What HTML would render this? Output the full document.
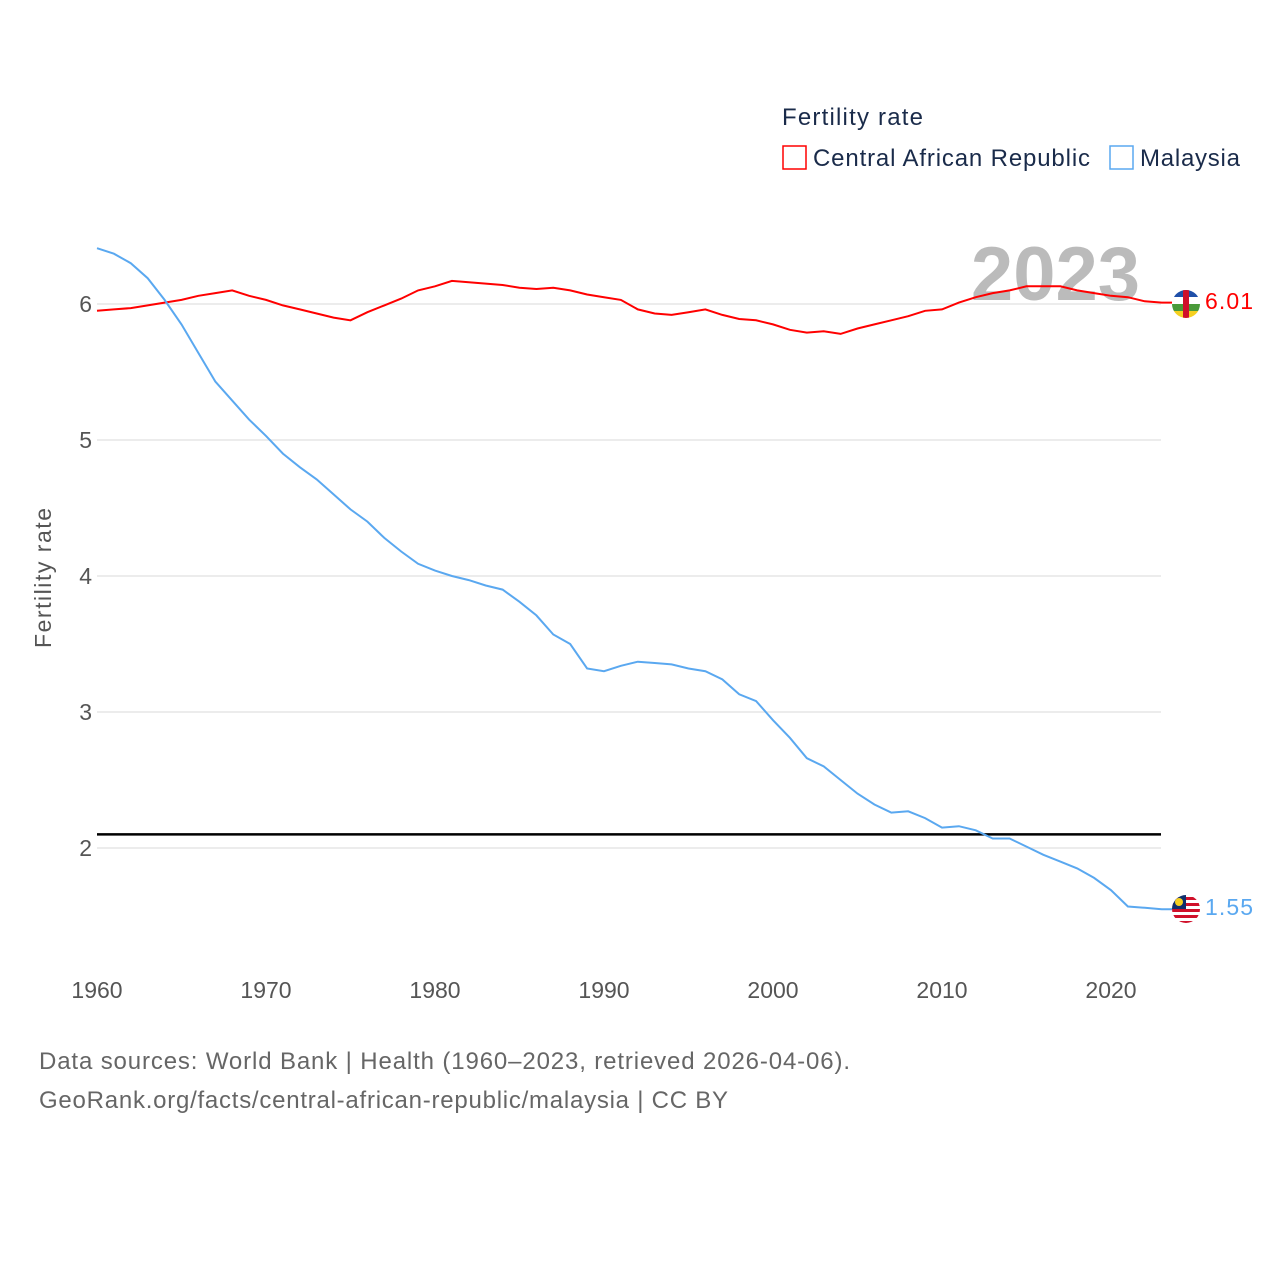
<!DOCTYPE html>
<html><head><meta charset="utf-8"><style>
body{margin:0;background:#fff;font-family:"Liberation Sans",sans-serif;}
svg{display:block}
</style></head><body>
<svg id="chart" width="1280" height="1280" xmlns="http://www.w3.org/2000/svg" font-family="Liberation Sans, sans-serif">
<g id="grid"></g>
<g id="yticks"></g>
<g id="xticks"></g>
<text x="1140" y="300" text-anchor="end" font-size="76" font-weight="bold" fill="#bbb">2023</text>
<line id="refline" stroke="#000" stroke-width="2.5"/>
<path id="car" fill="none" stroke="#f00" stroke-width="2"/>
<path id="mys" fill="none" stroke="#5aa8f0" stroke-width="2"/>
<text transform="translate(51,578) rotate(-90)" text-anchor="middle" font-size="23" fill="#555" textLength="140">Fertility rate</text>
<g>
<text x="782" y="125" font-size="24" fill="#1a2b4a" textLength="141">Fertility rate</text>
<rect x="783" y="146" width="23" height="23" fill="none" stroke="#f00" stroke-width="1.5"/>
<text x="813" y="166" font-size="24" fill="#1a2b4a" textLength="277">Central African Republic</text>
<rect x="1110" y="146" width="23" height="23" fill="none" stroke="#5aa8f0" stroke-width="1.5"/>
<text x="1140" y="166" font-size="24" fill="#1a2b4a" textLength="100">Malaysia</text>
</g>
<g>
<clipPath id="c1"><circle cx="1186" cy="304" r="14"/></clipPath>
<g clip-path="url(#c1)"><rect x="1172" y="290" width="28" height="7" fill="#1f4fa8"/><rect x="1172" y="297" width="28" height="7" fill="#fff"/><rect x="1172" y="304" width="28" height="7" fill="#4a9a3a"/><rect x="1172" y="311" width="28" height="7" fill="#f5d020"/><rect x="1183" y="290" width="6" height="28" fill="#d0102a"/></g>
</g>
<g>
<clipPath id="c2"><circle cx="1186" cy="909" r="14"/></clipPath>
<g clip-path="url(#c2)"><rect x="1172" y="895" width="28" height="28" fill="#fff"/>
<rect x="1172" y="897" width="28" height="3" fill="#d0102a"/><rect x="1172" y="903" width="28" height="3" fill="#d0102a"/><rect x="1172" y="909" width="28" height="3" fill="#d0102a"/><rect x="1172" y="915" width="28" height="3" fill="#d0102a"/><rect x="1172" y="921" width="28" height="3" fill="#d0102a"/>
<rect x="1172" y="895" width="14" height="14" fill="#10306e"/><circle cx="1179" cy="902" r="4" fill="#f5d020"/></g>
</g>
<text x="1205" y="309" font-size="23" fill="#f00" textLength="48">6.01</text>
<text x="1205" y="915" font-size="23" fill="#5aa8f0" textLength="48">1.55</text>
<text x="39" y="1069" font-size="24" fill="#666" textLength="811">Data sources: World Bank | Health (1960–2023, retrieved 2026-04-06).</text>
<text x="39" y="1108" font-size="24" fill="#666" textLength="689">GeoRank.org/facts/central-african-republic/malaysia | CC BY</text>
</svg>
<script>
const years=[];for(let y=1960;y<=2023;y++)years.push(y);
const carValues=[5.95,5.96,5.97,5.99,6.01,6.03,6.06,6.08,6.10,6.06,6.03,5.99,5.96,5.93,5.90,5.88,5.94,5.99,6.04,6.10,6.13,6.17,6.16,6.15,6.14,6.12,6.11,6.12,6.10,6.07,6.05,6.03,5.96,5.93,5.92,5.94,5.96,5.92,5.89,5.88,5.85,5.81,5.79,5.80,5.78,5.82,5.85,5.88,5.91,5.95,5.96,6.01,6.05,6.08,6.10,6.13,6.13,6.13,6.10,6.08,6.06,6.05,6.02,6.01];
const malaysiaValues=[6.41,6.37,6.30,6.19,6.03,5.85,5.64,5.43,5.29,5.15,5.03,4.90,4.80,4.71,4.60,4.49,4.40,4.28,4.18,4.09,4.04,4.00,3.97,3.93,3.90,3.81,3.71,3.57,3.50,3.32,3.30,3.34,3.37,3.36,3.35,3.32,3.30,3.24,3.13,3.08,2.94,2.81,2.66,2.60,2.50,2.40,2.32,2.26,2.27,2.22,2.15,2.16,2.13,2.07,2.07,2.01,1.95,1.90,1.85,1.78,1.69,1.57,1.56,1.55];
const yTicks=[2,3,4,5,6];
const xTicks=[1960,1970,1980,1990,2000,2010,2020];
const refValue=2.1;
const X=y=>97+(y-1960)*(1111-97)/60;
const Y=v=>848-(v-2)*136;
const NS='http://www.w3.org/2000/svg';
function mk(tag,attrs,parent){const e=document.createElementNS(NS,tag);for(const k in attrs)e.setAttribute(k,attrs[k]);parent.appendChild(e);return e;}
const grid=document.getElementById('grid'),yt=document.getElementById('yticks'),xt=document.getElementById('xticks');
yTicks.forEach(v=>{
 const l=mk('line',{x1:97,x2:1161,y1:Y(v),y2:Y(v),stroke:'#e6e6e6','stroke-width':1.5},grid);
 
 
 const t=mk('text',{x:92,y:Y(v)+8,'text-anchor':'end','font-size':23,fill:'#555'},yt);
 t.textContent=v;
 
 
});
xTicks.forEach(v=>{
 const t=mk('text',{x:X(v),y:998,'text-anchor':'middle','font-size':23,fill:'#555'},xt);
 t.textContent=v;
 
 
});
const rl=document.getElementById('refline');
rl.setAttribute('x1',97);rl.setAttribute('x2',1161);rl.setAttribute('y1',Y(refValue));rl.setAttribute('y2',Y(refValue));
const path=vals=>vals.map((v,i)=>(i?'L':'M')+X(years[i]).toFixed(1)+','+Y(v).toFixed(1)).join('');
document.getElementById('car').setAttribute('d',path(carValues)+'L1172,'+Y(carValues[carValues.length-1]).toFixed(1));
document.getElementById('mys').setAttribute('d',path(malaysiaValues)+'L1172,'+Y(malaysiaValues[malaysiaValues.length-1]).toFixed(1));
</script>
</body></html>
